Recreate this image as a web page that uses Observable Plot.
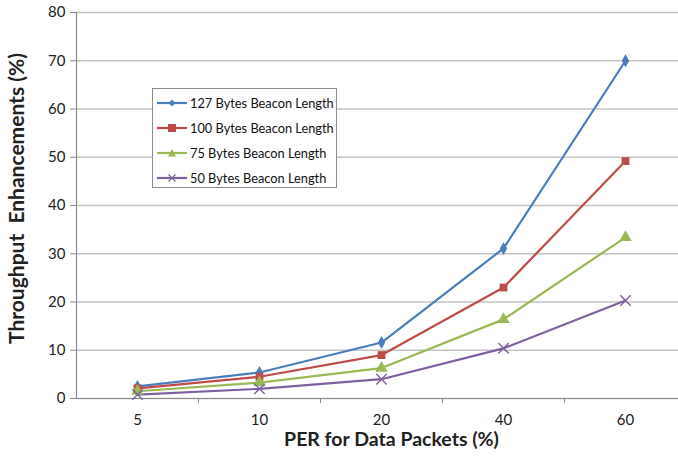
<!DOCTYPE html>
<html>
<head>
<meta charset="utf-8">
<script src="https://cdn.jsdelivr.net/npm/d3@7"></script>
<script src="https://cdn.jsdelivr.net/npm/@observablehq/plot@0.6"></script>
<style>
  html, body { margin: 0; padding: 0; background: #fff; }
  #wrap { position: relative; width: 678px; height: 461px; overflow: hidden; font-family: Lato, "Open Sans", sans-serif; }
  #legend { position: absolute; left: 152px; top: 88px; width: 185px; height: 100px; border: 1px solid #8c8c8c; background: #fff; box-sizing: border-box; }
  .item { position: absolute; left: 4px; height: 16px; display: flex; align-items: center; font-size: 12.8px; color: #111; white-space: nowrap; }
  .item svg { margin-right: 2px; }
</style>
</head>
<body>
<div id="wrap"><div id="legend"></div></div>
<script>
const categories = ["5", "10", "20", "40", "60"];
const seriesNames = ["127 Bytes Beacon Length", "100 Bytes Beacon Length", "75 Bytes Beacon Length", "50 Bytes Beacon Length"];
const s127 = [2.5, 5.4, 11.6, 31.1, 70.0];
const s100 = [2.1, 4.5, 9.0, 23.0, 49.2];
const s75 = [1.5, 3.3, 6.3, 16.4, 33.4];
const s50 = [0.8, 2.0, 4.0, 10.4, 20.3];
const colors = ["#4a7ebb", "#be4b48", "#98b954", "#7d60a0"];
const symbols = ["diamond", "square", "triangle", "times"];
const yTicks = [0, 10, 20, 30, 40, 50, 60, 70, 80];
const xTitle = "PER for Data Packets (%)";
const yTitle = "Throughput  Enhancements (%)";

const allSeries = [s127, s100, s75, s50];
const data = [];
allSeries.forEach((vals, si) => vals.forEach((v, i) => data.push({series: seriesNames[si], idx: i, value: v})));
const bySeries = k => data.filter(d => d.series === seriesNames[k]);
const markerR = [3.9, 4.4, 4.6, 4.8];

const font = "Lato, 'Open Sans', sans-serif";
const chart = Plot.plot({
  width: 678,
  height: 461,
  marginLeft: 76,
  marginRight: 0,
  marginTop: 12,
  marginBottom: 63,
  style: {fontFamily: font, background: "#fff", overflow: "visible"},
  x: {type: "linear", domain: [-0.5, 4.5], range: [76, 686]},
  y: {domain: [0, 80]},
  color: {domain: seriesNames, range: colors},
  symbol: {domain: seriesNames, range: symbols},
  marks: [
    Plot.gridY(yTicks, {stroke: "#c4c4c4", strokeOpacity: 1, strokeWidth: 1.6}),
    Plot.ruleY([0], {stroke: "#8a8a8a", strokeWidth: 1.2}),
    Plot.ruleX([-0.5], {stroke: "#8a8a8a", strokeWidth: 1.2}),
    Plot.axisY(yTicks, {tickSize: 6, tickPadding: 5, fontSize: 15, fill: "#222", stroke: "#8a8a8a", label: null}),
    Plot.axisX([0, 1, 2, 3, 4], {tickSize: 0, tickPadding: 16, fontSize: 15, fill: "#222", tickFormat: i => categories[i], label: null}),
    Plot.axisX([0.5, 1.5, 2.5, 3.5], {tickSize: 5, stroke: "#8a8a8a", tickFormat: () => "", label: null}),
    Plot.line(data, {x: "idx", y: "value", stroke: "series", z: "series", strokeWidth: 2.2}),
    ...[0, 1, 2].map(k => Plot.dot(bySeries(k), {x: "idx", y: "value", symbol: "series", fill: "series", stroke: "none", r: markerR[k]})),
    Plot.dot(bySeries(3), {x: "idx", y: "value", symbol: "series", stroke: "series", fill: "none", strokeWidth: 1.4, r: markerR[3]}),
    Plot.text([xTitle], {frameAnchor: "bottom", dy: 47, dx: 14, fontSize: 19.5, fontWeight: "bold", fill: "#222"}),
    Plot.text([yTitle], {frameAnchor: "left", textAnchor: "middle", lineAnchor: "middle", rotate: -90, dx: -59, dy: -7, fontSize: 21, fontWeight: "bold", fill: "#222"})
  ]
});
document.getElementById("wrap").prepend(chart);

// legend
const legend = document.getElementById("legend");
const symPaths = {
  diamond: '<path d="M15 1.5 L18.5 5 L15 8.5 L11.5 5 Z" fill="COL"/>',
  square: '<rect x="11" y="1" width="8" height="8" fill="COL"/>',
  triangle: '<path d="M15 1 L19 8.5 L11 8.5 Z" fill="COL"/>',
  times: '<path d="M11.5 1.5 L18.5 8.5 M18.5 1.5 L11.5 8.5" stroke="COL" stroke-width="1.2" fill="none"/>'
};
seriesNames.forEach((name, i) => {
  const el = document.createElement("div");
  el.className = "item";
  el.style.top = (6 + i * 25) + "px";
  el.innerHTML = `<svg width="31" height="10"><line x1="0" y1="5" x2="30" y2="5" stroke="${colors[i]}" stroke-width="2.2"/>${symPaths[symbols[i]].replace(/COL/g, colors[i])}</svg><span>${name}</span>`;
  legend.appendChild(el);
});
</script>
</body>
</html>
